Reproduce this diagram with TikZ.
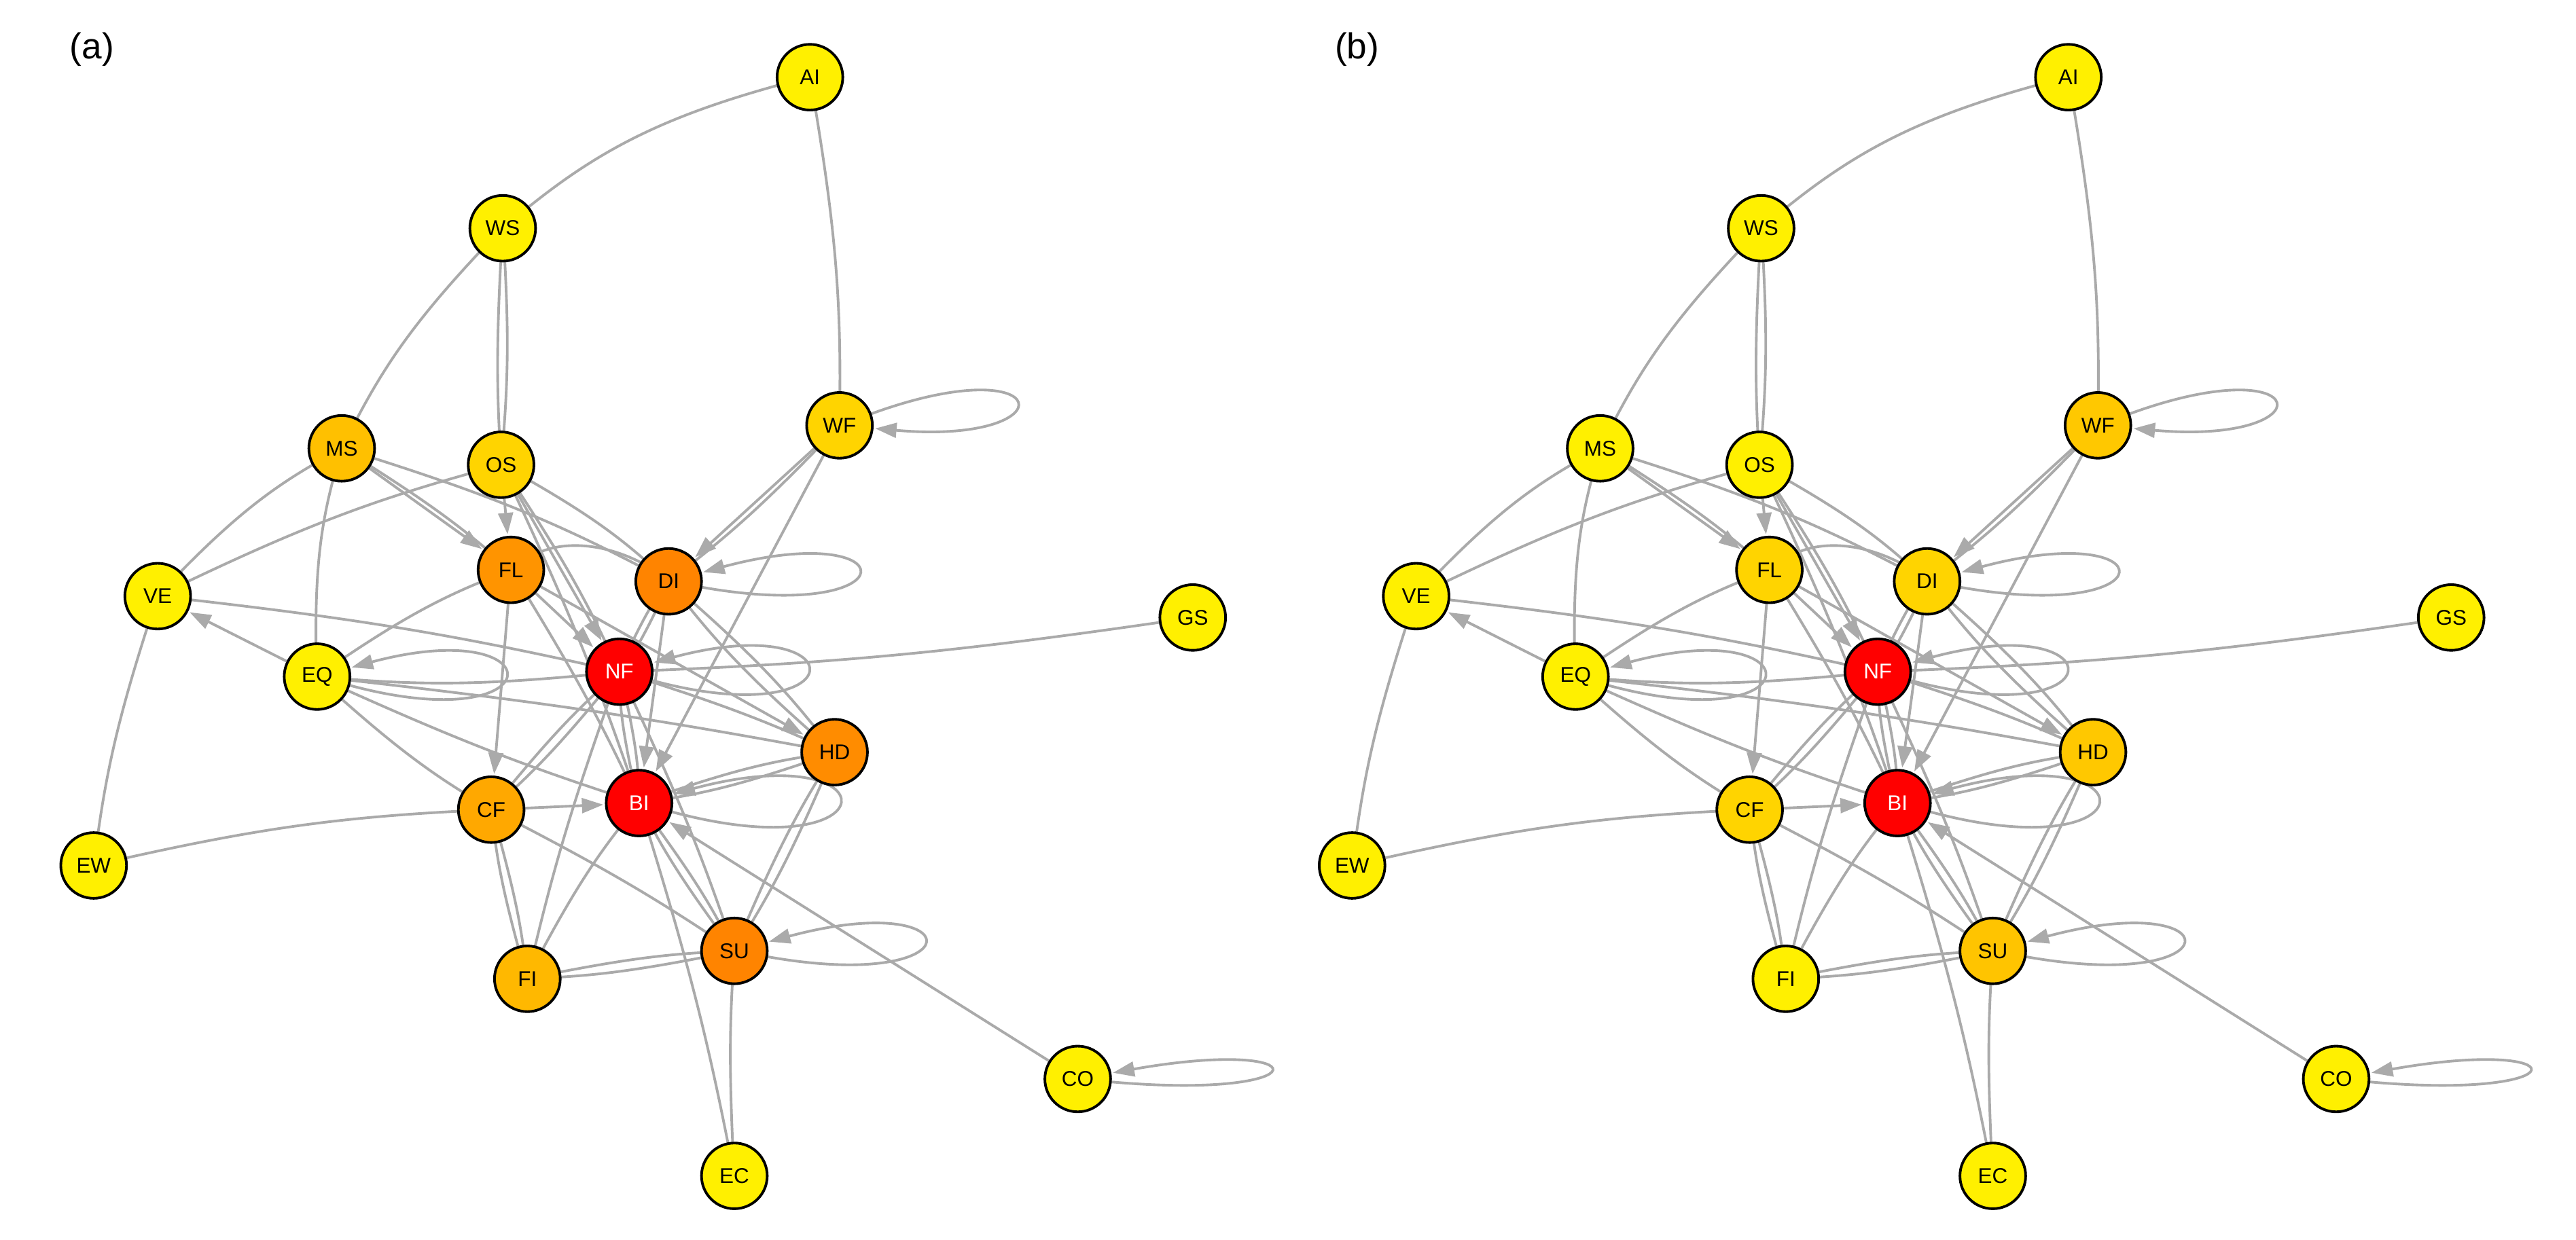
\documentclass[tikz,border=0pt]{standalone}
\usepackage{fontspec}
\setmainfont{Liberation Sans}
\usetikzlibrary{arrows.meta,backgrounds}
\definecolor{ye}{HTML}{FFF000}
\definecolor{eg}{HTML}{AAAAAA}
\tikzset{
 v/.style={circle,draw=black,line width=1.6pt,minimum size=40pt,inner sep=0pt,font=\fontsize{13pt}{13pt}\selectfont},
 e/.style={draw=eg,line width=1.6pt,-{Triangle[length=13pt,width=9pt]},shorten >=1pt},
 ln/.style={draw=eg,line width=1.6pt}
}
\newcommand\lp[4]{\draw[e] (#1.#2) .. controls +(#2:#4) and +(#3:#4) .. (#1.#3);}
\newcommand\mygraph{%
\node[v,fill=ye] (AI) at (493,47) {AI};
\node[v,fill=ye] (WS) at (306,139) {WS};
\node[v,fill=cWF] (WF) at (511,259) {WF};
\node[v,fill=cMS] (MS) at (208,273) {MS};
\node[v,fill=cOS] (OS) at (305,283) {OS};
\node[v,fill=cFL] (FL) at (311,347) {FL};
\node[v,fill=cDI] (DI) at (407,354) {DI};
\node[v,fill=ye] (VE) at (96,363) {VE};
\node[v,fill=ye] (GS) at (726,376) {GS};
\node[v,fill=ye] (EQ) at (193,412) {EQ};
\node[v,fill=red,text=white] (NF) at (377,409) {NF};
\node[v,fill=cHD] (HD) at (508,458) {HD};
\node[v,fill=cCF] (CF) at (299,493) {CF};
\node[v,fill=red,text=white] (BI) at (389,489) {BI};
\node[v,fill=ye] (EW) at (57,527) {EW};
\node[v,fill=cSU] (SU) at (447,579) {SU};
\node[v,fill=cFI] (FI) at (321,596) {FI};
\node[v,fill=ye] (CO) at (656,657) {CO};
\node[v,fill=ye] (EC) at (447,716) {EC};
\begin{scope}[on background layer]
\draw[e] (AI) to[bend right=12] (WS);
\draw[e] (AI) to[bend left=5] (WF);
\draw[e] (WS) to[bend right=8] (MS);
\draw[e] (WS) to[bend right=3] (OS);
\draw[ln] (WS) to[bend left=4] (OS);
\lp{WF}{20}{-5}{120pt}
\draw[e] (WF) to (DI);
\draw[e] (WF) to[bend left=4] (DI);
\draw[e] (WF) to (BI);
\draw[e] (MS) to (FL);
\draw[e] (MS) to[bend left=4] (FL);
\draw[e] (MS) to[bend left=5] (DI);
\draw[e] (VE) to[bend left=8] (MS);
\draw[e] (VE) to[bend left=5] (OS);
\draw[e] (VE) to[bend left=3] (NF);
\draw[e] (VE) to[bend right=5] (EW);
\draw[e] (EQ) to (VE);
\draw[e] (EQ) to[bend left=8] (MS);
\draw[e] (EQ) to[bend left=6] (FL);
\draw[e] (EQ) to[bend right=5] (CF);
\draw[e] (EQ) to[bend right=3] (BI);
\draw[e] (EQ) to[bend left=2] (HD);
\lp{EQ}{-15}{15}{130pt}
\draw[e] (OS) to (FL);
\draw[e] (OS) to (NF);
\draw[e] (OS) to[bend left=4] (NF);
\draw[e] (OS) to[bend left=3] (BI);
\draw[e] (OS) to[bend left=6] (DI);
\draw[e] (DI) to[bend right=30] (FL);
\draw[e] (FL) to (NF);
\draw[e] (FL) to[bend left=3] (BI);
\draw[e] (FL) to (CF);
\draw[e] (FL) to (HD);
\lp{DI}{-10}{15}{130pt}
\draw[e] (DI) to[bend left=5] (NF);
\draw[e] (NF) to[bend left=5] (DI);
\draw[e] (DI) to (BI);
\draw[e] (DI) to[bend left=5] (HD);
\draw[e] (HD) to[bend left=5] (DI);
\draw[e] (GS) to[bend left=3] (NF);
\lp{NF}{-15}{15}{130pt}
\draw[e] (NF) to[bend left=3] (HD);
\draw[e] (NF) to[bend left=5] (BI);
\draw[e] (BI) to[bend left=5] (NF);
\draw[e] (NF) to[bend left=4] (CF);
\draw[e] (CF) to[bend left=4] (NF);
\draw[e] (NF) to[bend right=3] (FI);
\draw[e] (NF) to[bend left=3] (SU);
\draw[e] (NF) to[bend left=5] (EQ);
\draw[e] (HD) to[bend left=5] (BI);
\draw[e] (BI) to[bend left=5] (HD);
\lp{BI}{-15}{15}{140pt}
\draw[e] (HD) to[bend left=4] (SU);
\draw[e] (SU) to[bend left=4] (HD);
\draw[e] (CF) to (BI);
\draw[ln] (EW) to[bend left=5] (CF);
\draw[e] (CF) to[bend left=4] (FI);
\draw[e] (FI) to[bend left=4] (CF);
\draw[e] (CF) to[bend left=3] (SU);
\draw[e] (FI) to[bend left=5] (BI);
\draw[e] (FI) to[bend left=4] (SU);
\draw[e] (SU) to[bend left=4] (FI);
\draw[e] (BI) to[bend left=4] (SU);
\draw[e] (SU) to[bend left=4] (BI);
\draw[e] (BI) to[bend left=3] (EC);
\draw[e] (EC) to[bend left=3] (SU);
\lp{SU}{-10}{15}{130pt}
\draw[e] (CO) to (BI);
\lp{CO}{-5}{10}{130pt}
\end{scope}}
\begin{document}
\begin{tikzpicture}[x=1pt,y=-1pt]
\useasboundingbox (0,0) rectangle (1568,755);
\node[font=\fontsize{22pt}{22pt}\selectfont] (la) at (56,30) {(a)};
\node[font=\fontsize{22pt}{22pt}\selectfont] (lb) at (826,30) {(b)};
\begin{scope}[name prefix=a-]
\definecolor{cWF}{HTML}{FFD400}\definecolor{cMS}{HTML}{FFC000}\definecolor{cOS}{HTML}{FFD400}
\definecolor{cFL}{HTML}{FF9400}\definecolor{cDI}{HTML}{FF8400}\definecolor{cHD}{HTML}{FF8C00}
\definecolor{cCF}{HTML}{FFA800}\definecolor{cSU}{HTML}{FF8400}\definecolor{cFI}{HTML}{FFB800}
\mygraph
\end{scope}
\begin{scope}[name prefix=b-,xshift=766pt]
\definecolor{cWF}{HTML}{FFC800}\definecolor{cMS}{HTML}{FFF000}\definecolor{cOS}{HTML}{FFF000}
\definecolor{cFL}{HTML}{FFD400}\definecolor{cDI}{HTML}{FFD400}\definecolor{cHD}{HTML}{FFC800}
\definecolor{cCF}{HTML}{FFD400}\definecolor{cSU}{HTML}{FFC400}\definecolor{cFI}{HTML}{FFF000}
\mygraph
\end{scope}
\end{tikzpicture}
\end{document}
